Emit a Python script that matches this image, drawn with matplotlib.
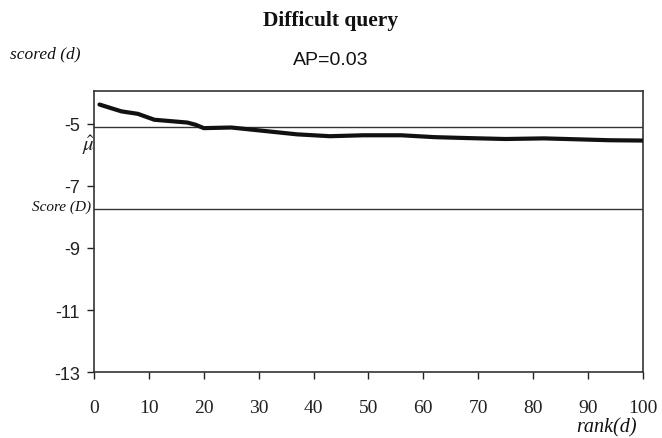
import matplotlib
matplotlib.use("Agg")
import matplotlib.pyplot as plt

plt.rcParams["mathtext.fontset"] = "stix"

# score of the document at each rank
ranks = [1, 3, 5, 8, 11, 17, 18.5, 20, 25, 31, 37, 43, 49, 56, 62, 68, 75, 82, 88, 94, 100]
scores = [-4.38, -4.49, -4.60, -4.68, -4.87, -4.96, -5.03, -5.14, -5.12, -5.23, -5.34,
          -5.40, -5.37, -5.37, -5.43, -5.46, -5.49, -5.47, -5.50, -5.53, -5.54]

mu_hat = -5.1       # mean score of the top documents
score_D = -7.75     # score of the query
ap = 0.03

x_ticks = list(range(0, 101, 10))
y_ticks = [-13, -11, -9, -7, -5]

SERIF = "Liberation Serif"
SANS = "Liberation Sans"

fig = plt.figure(figsize=(6.62, 4.39), dpi=100)
ax = fig.add_axes([0.142, 0.150, 0.829, 0.640])

ax.plot(ranks, scores, color="#111111", linewidth=3.0, solid_capstyle="round", zorder=3)
ax.axhline(mu_hat, color="#333333", linewidth=1.0, zorder=2)
ax.axhline(score_D, color="#333333", linewidth=1.0, zorder=2)

ax.set_xlim(0, 100)
ax.set_ylim(-13, -3.95)
ax.set_xticks(x_ticks)
ax.set_yticks(y_ticks)
ax.set_xticklabels([str(v) for v in x_ticks], fontfamily=SERIF, fontsize=14)
ax.set_yticklabels([str(v) for v in y_ticks], fontfamily=SANS, fontsize=13)
ax.tick_params(axis="x", direction="out", length=5, width=1, pad=14, colors="#222222")
ax.tick_params(axis="y", direction="out", length=5, width=1, pad=5, colors="#222222")
for sp in ax.spines.values():
    sp.set_color("#333333")
    sp.set_linewidth(1.2)

fig.text(0.5, 0.952, "Difficult query", ha="center", va="center",
         fontfamily=SERIF, fontweight="bold", fontsize=15.5, color="#111111")
fig.text(0.5, 0.862, f"AP={ap}", ha="center", va="center",
         fontfamily=SANS, fontsize=14, color="#111111")
fig.text(0.015, 0.877, "scored (d)", ha="left", va="center",
         fontfamily=SERIF, fontstyle="italic", fontsize=12.5, color="#111111")
fig.text(0.134, 0.668, r"$\hat{\mu}$", ha="center", va="center",
         fontsize=15, color="#222222")
fig.text(0.138, 0.527, "Score (D)", ha="right", va="center",
         fontfamily=SERIF, fontstyle="italic", fontsize=11, color="#111111")
fig.text(0.962, 0.025, "rank(d)", ha="right", va="center",
         fontfamily=SERIF, fontstyle="italic", fontsize=14.5, color="#111111")

fig.savefig("out.png", dpi=100)
